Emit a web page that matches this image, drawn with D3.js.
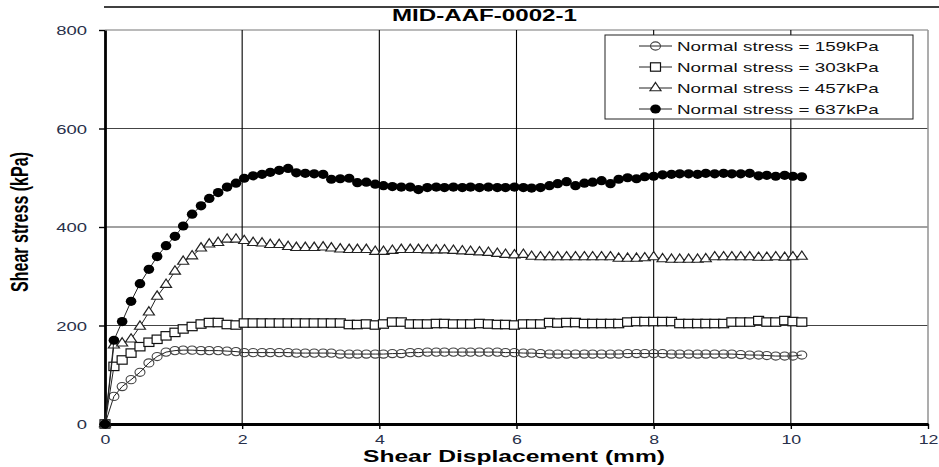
<!DOCTYPE html>
<html>
<head>
<meta charset="utf-8">
<script src="https://cdn.jsdelivr.net/npm/d3@7"></script>
<style>
  html, body { margin: 0; padding: 0; background: #fff; }
  svg { display: block; font-family: "Liberation Sans", Arial, Helvetica, sans-serif; }
</style>
</head>
<body>
<svg id="chart" width="939" height="467"></svg>
<script>
// Shear displacement readings (mm), shared by all four tests
const displacement = [
  0, 0.13, 0.25, 0.38, 0.51, 0.64, 0.76, 0.89, 1.02, 1.14,
  1.27, 1.40, 1.52, 1.65, 1.78, 1.91, 2.03, 2.16, 2.29, 2.41,
  2.54, 2.67, 2.79, 2.92, 3.05, 3.18, 3.30, 3.43, 3.56, 3.68,
  3.81, 3.94, 4.06, 4.19, 4.32, 4.45, 4.57, 4.70, 4.83, 4.95,
  5.08, 5.21, 5.33, 5.46, 5.59, 5.72, 5.84, 5.97, 6.10, 6.22,
  6.35, 6.48, 6.60, 6.73, 6.86, 6.99, 7.11, 7.24, 7.37, 7.49,
  7.62, 7.75, 7.87, 8.00, 8.13, 8.26, 8.38, 8.51, 8.64, 8.76,
  8.89, 9.02, 9.14, 9.27, 9.40, 9.53, 9.65, 9.78, 9.91, 10.03,
  10.16
];

// Shear stress (kPa) for each normal stress
const stress159 = [
  0, 56, 76, 90, 105, 124, 137, 146, 149, 150,
  150, 149, 149, 149, 148, 147, 145, 145, 145, 145,
  145, 145, 144, 144, 144, 144, 144, 142, 142, 142,
  142, 142, 142, 143, 143, 145, 145, 146, 146, 146,
  146, 146, 146, 146, 146, 146, 145, 145, 144, 144,
  143, 142, 142, 142, 142, 142, 142, 142, 142, 142,
  143, 143, 143, 143, 143, 142, 142, 142, 142, 142,
  142, 142, 142, 141, 140, 140, 139, 138, 138, 138,
  140
];
const stress303 = [
  0, 117, 130, 144, 157, 166, 172, 179, 186, 193,
  198, 203, 206, 206, 202, 201, 205, 205, 205, 205,
  205, 205, 205, 205, 205, 205, 205, 205, 202, 202,
  203, 201, 203, 207, 207, 203, 203, 203, 204, 204,
  203, 203, 203, 204, 203, 202, 202, 201, 203, 203,
  203, 206, 205, 206, 206, 204, 204, 204, 204, 204,
  207, 208, 208, 208, 208, 208, 204, 204, 204, 204,
  204, 204, 207, 207, 207, 210, 207, 207, 210, 208,
  207
];
const stress457 = [
  0, 160, 164, 172, 198, 227, 259, 283, 310, 330,
  341, 357, 365, 368, 375, 375, 372, 368, 367, 364,
  364, 360, 358, 358, 358, 359, 357, 355, 354, 354,
  354, 350, 350, 352, 354, 354, 354, 353, 353, 353,
  352, 351, 350, 349, 348, 346, 344, 343, 344, 340,
  339, 339, 339, 339, 339, 339, 339, 339, 339, 336,
  336, 336, 337, 339, 335, 334, 334, 334, 334, 335,
  339, 339, 339, 339, 339, 338, 338, 339, 338, 339,
  340
];
const stress637 = [
  0, 170, 208, 249, 285, 314, 340, 362, 381, 402,
  426, 443, 458, 470, 481, 489, 499, 504, 507, 511,
  515, 519, 510, 509, 508, 507, 497, 498, 499, 490,
  491, 487, 484, 482, 481, 481, 476, 480, 481, 480,
  481, 480, 481, 480, 481, 480, 480, 481, 480, 479,
  480, 484, 488, 492, 484, 489, 491, 494, 488, 497,
  500, 498, 502, 503, 506, 507, 508, 508, 507, 509,
  508, 509, 508, 508, 509, 504, 505, 503, 505, 503,
  502
];

const seriesNames = [
  "Normal stress = 159kPa",
  "Normal stress = 303kPa",
  "Normal stress = 457kPa",
  "Normal stress = 637kPa"
];
const seriesMarkers = ["circle", "square", "triangle", "dot"];
const xTicks = [0, 2, 4, 6, 8, 10, 12];
const yTicks = [0, 200, 400, 600, 800];
const chartTitle = "MID-AAF-0002-1";
const xTitle = "Shear Displacement (mm)";
const yTitle = "Shear stress (kPa)";

// ---------------------------------------------------------------
const svg = d3.select("#chart");
const W = 939, H = 467;
const plot = { left: 105, right: 928, top: 30, bottom: 424 };
const K = 1.42; // horizontal widening applied to all lettering

const x = d3.scaleLinear().domain([0, 12]).range([plot.left, plot.right]);
const y = d3.scaleLinear().domain([0, 800]).range([plot.bottom, plot.top]);

svg.append("rect").attr("width", W).attr("height", H).attr("fill", "#fff");

// rule above the title
svg.append("line")
  .attr("x1", 104).attr("x2", W).attr("y1", 7).attr("y2", 7)
  .attr("stroke", "#000").attr("stroke-width", 1.6);

// title
svg.append("text")
  .attr("transform", `translate(392,20.5) scale(${K},1)`)
  .attr("font-size", 17).attr("font-weight", "bold").attr("fill", "#000")
  .text(chartTitle);

// horizontal gridlines
svg.append("g").selectAll("line")
  .data(yTicks.filter(d => d > 0))
  .join("line")
  .attr("x1", plot.left).attr("x2", plot.right)
  .attr("y1", d => y(d)).attr("y2", d => y(d))
  .attr("stroke", d => d === 800 ? "#777" : "#444").attr("stroke-width", 1.1);

// vertical gridlines
svg.append("g").selectAll("line")
  .data(xTicks.filter(d => d > 0))
  .join("line")
  .attr("x1", d => x(d)).attr("x2", d => x(d))
  .attr("y1", plot.top).attr("y2", plot.bottom)
  .attr("stroke", d => d === 12 ? "#999" : "#000")
  .attr("stroke-width", d => d === 12 ? 1.6 : 1.1);

// axes
const yAxis = d3.axisLeft(y).tickValues(yTicks).tickSize(6).tickSizeOuter(0).tickFormat(d3.format("d"));
const gy = svg.append("g").attr("transform", `translate(${plot.left},0)`).call(yAxis);
gy.select(".domain").attr("stroke", "#000").attr("stroke-width", 2.8);
gy.selectAll(".tick line").attr("stroke", "#000").attr("stroke-width", 1.4);
gy.selectAll(".tick text")
  .attr("x", null).attr("dy", "0.36em")
  .attr("transform", `translate(-18,0) scale(${K},1)`)
  .attr("font-size", 13).attr("font-family", null).attr("fill", "#28304a");

const xAxis = d3.axisBottom(x).tickValues(xTicks).tickSize(5).tickSizeOuter(0).tickFormat(d3.format("d"));
const gx = svg.append("g").attr("transform", `translate(0,${plot.bottom})`).call(xAxis);
gx.select(".domain").attr("stroke", "#000").attr("stroke-width", 2.8);
gx.selectAll(".tick line").attr("stroke", "#000").attr("stroke-width", 1.4);
gx.selectAll(".tick text")
  .attr("y", null).attr("dy", null)
  .attr("transform", `translate(0,19.5) scale(${K},1)`)
  .attr("font-size", 12.5).attr("font-family", null).attr("fill", "#28304a");

// axis titles
svg.append("text")
  .attr("x", 514).attr("y", 461.5)
  .attr("text-anchor", "middle")
  .attr("textLength", 302).attr("lengthAdjust", "spacingAndGlyphs")
  .attr("font-size", 16).attr("font-weight", "bold").attr("fill", "#000")
  .text(xTitle);

svg.append("text")
  .attr("transform", `translate(28,222) rotate(-90) scale(1,${K})`)
  .attr("text-anchor", "middle")
  .attr("textLength", 140).attr("lengthAdjust", "spacingAndGlyphs")
  .attr("font-size", 16.5).attr("font-weight", "bold").attr("fill", "#000")
  .text(yTitle);

// marker drawing
const triPath = d3.symbol().type(d3.symbolTriangle).size(40)();
function drawMarker(g, kind) {
  if (kind === "circle") {
    g.append("ellipse").attr("rx", 5).attr("ry", 4.1)
      .attr("fill", "none").attr("stroke", "#444").attr("stroke-width", 1.1);
  } else if (kind === "square") {
    g.append("rect").attr("x", -5).attr("y", -4.2).attr("width", 10).attr("height", 8.4)
      .attr("fill", "#fff").attr("stroke", "#111").attr("stroke-width", 1.2);
  } else if (kind === "triangle") {
    g.append("path").attr("d", triPath).attr("transform", "scale(1.15,1)")
      .attr("fill", "#fff").attr("stroke", "#222").attr("stroke-width", 1.1);
  } else {
    g.append("ellipse").attr("rx", 5.3).attr("ry", 4.6).attr("fill", "#000");
  }
}

const allSeries = [stress159, stress303, stress457, stress637].map((vals, i) => ({
  name: seriesNames[i],
  marker: seriesMarkers[i],
  points: displacement.map((d, j) => ({ d, s: vals[j] }))
}));

const line = d3.line().x(p => x(p.d)).y(p => y(p.s));
const seriesG = svg.append("g");
allSeries.forEach(ser => {
  const g = seriesG.append("g");
  g.append("path").attr("d", line(ser.points))
    .attr("fill", "none").attr("stroke", "#222").attr("stroke-width", 1);
  g.selectAll("g.pt").data(ser.points).join("g").attr("class", "pt")
    .attr("transform", p => `translate(${x(p.d)},${y(p.s)})`)
    .each(function () { drawMarker(d3.select(this), ser.marker); });
});

// legend
const lg = svg.append("g");
lg.append("rect").attr("x", 605).attr("y", 35).attr("width", 308).attr("height", 84)
  .attr("fill", "#fff").attr("stroke", "#222").attr("stroke-width", 1);
const rowY = [46, 67, 88, 109];
allSeries.forEach((ser, i) => {
  const row = lg.append("g").attr("transform", `translate(0,${rowY[i]})`);
  row.append("line").attr("x1", 639).attr("x2", 672).attr("y1", 0).attr("y2", 0)
    .attr("stroke", "#222").attr("stroke-width", 1);
  drawMarker(row.append("g").attr("transform", "translate(655.5,0)"), ser.marker);
  row.append("text")
    .attr("transform", `translate(677,4.8) scale(1.45,1)`)
    .attr("font-size", 13).attr("fill", "#111")
    .text(ser.name);
});
</script>
</body>
</html>
